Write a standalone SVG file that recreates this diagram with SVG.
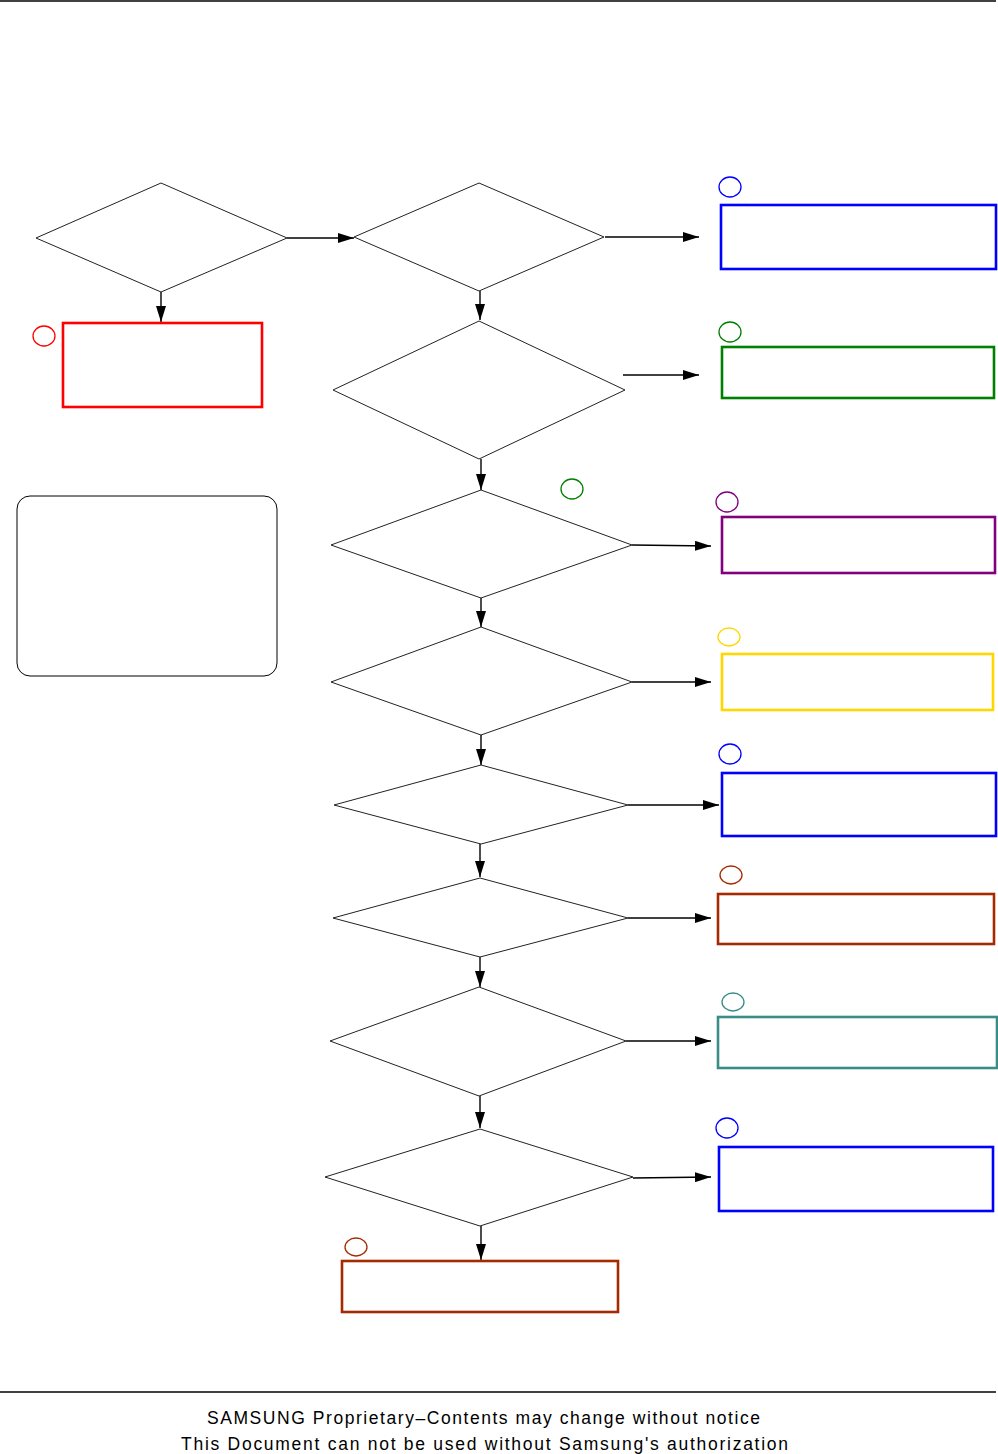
<svg xmlns="http://www.w3.org/2000/svg" width="998" height="1454" viewBox="0 0 998 1454">
<defs>
<marker id="ah" markerWidth="16" markerHeight="10" refX="16" refY="5" orient="auto" markerUnits="userSpaceOnUse">
<path d="M0,0 L16,5 L0,10 Z" fill="#000"/>
</marker>
</defs>
<style>
.d{fill:#fff;stroke:#222;stroke-width:1}
.c{fill:none;stroke:#000;stroke-width:1.4}
.b{fill:#fff;stroke-width:2.6}
.o{fill:none;stroke-width:1.3}
.f{font-family:"Liberation Sans",Arial,sans-serif;font-size:17.5px;fill:#000}
</style>
<rect width="998" height="1454" fill="#fff"/>
<line x1="0" y1="1" x2="996" y2="1" stroke="#000" stroke-width="1.5"/>

<g id="connectors">
<line class="c" x1="287" y1="238" x2="354" y2="238" marker-end="url(#ah)"/>
<line class="c" x1="161" y1="292" x2="161" y2="322" marker-end="url(#ah)"/>
<line class="c" x1="605" y1="237" x2="699" y2="237" marker-end="url(#ah)"/>
<line class="c" x1="480" y1="291" x2="480" y2="320" marker-end="url(#ah)"/>
<line class="c" x1="623" y1="375" x2="699" y2="375" marker-end="url(#ah)"/>
<line class="c" x1="481" y1="459" x2="481" y2="490" marker-end="url(#ah)"/>
<line class="c" x1="632" y1="545" x2="711" y2="546" marker-end="url(#ah)"/>
<line class="c" x1="481" y1="598" x2="481" y2="627" marker-end="url(#ah)"/>
<line class="c" x1="632" y1="682" x2="711" y2="682" marker-end="url(#ah)"/>
<line class="c" x1="481" y1="735" x2="481" y2="765" marker-end="url(#ah)"/>
<line class="c" x1="628" y1="805" x2="719" y2="805" marker-end="url(#ah)"/>
<line class="c" x1="480" y1="844" x2="480" y2="877" marker-end="url(#ah)"/>
<line class="c" x1="628" y1="918" x2="711" y2="918" marker-end="url(#ah)"/>
<line class="c" x1="480" y1="957" x2="480" y2="987" marker-end="url(#ah)"/>
<line class="c" x1="626" y1="1041" x2="711" y2="1041" marker-end="url(#ah)"/>
<line class="c" x1="480" y1="1096" x2="480" y2="1128" marker-end="url(#ah)"/>
<line class="c" x1="633" y1="1178" x2="711" y2="1177" marker-end="url(#ah)"/>
<line class="c" x1="481" y1="1226" x2="481" y2="1260" marker-end="url(#ah)"/>
</g>

<g id="d1"><polygon class="d" points="161,183 287,238 161,292 36,238"/></g>
<g id="d2"><polygon class="d" points="479,183 604,237 479,291 354,237"/></g>
<g id="d3"><polygon class="d" points="479,321 625,390 479,459 333,390"/></g>
<g id="d4"><polygon class="d" points="481,490 632,545 481,598 331,545"/></g>
<g id="d5"><polygon class="d" points="481,627 632,682 481,735 331,682"/></g>
<g id="d6"><polygon class="d" points="481,765 628,805 481,844 334,805"/></g>
<g id="d7"><polygon class="d" points="480,878 628,918 480,957 333,918"/></g>
<g id="d8"><polygon class="d" points="479,987 626,1041 479,1096 330,1041"/></g>
<g id="d9"><polygon class="d" points="480,1129 633,1177 480,1226 325,1177"/></g>

<g id="note"><rect x="17" y="496" width="260" height="180" rx="13" ry="13" fill="#fff" stroke="#000" stroke-width="1"/></g>

<g id="r-red"><rect class="b" x="63" y="323" width="199" height="84" stroke="#ff0000" stroke-width="2.8"/><ellipse class="o" cx="44" cy="336" rx="11" ry="10" stroke="#ff0000"/></g>
<g id="r-blue1"><rect class="b" x="721" y="205" width="275" height="64" stroke="#0000ff" stroke-width="2.8"/><ellipse class="o" cx="730" cy="187" rx="11" ry="10" stroke="#0000ff"/></g>
<g id="r-green"><rect class="b" x="722" y="347" width="272" height="51" stroke="#008000"/><ellipse class="o" cx="730" cy="332" rx="11" ry="10" stroke="#008000"/></g>
<g id="c-green2"><ellipse class="o" cx="572" cy="489" rx="11" ry="10" stroke="#008000"/></g>
<g id="r-purple"><rect class="b" x="722" y="517" width="273" height="56" stroke="#800080"/><ellipse class="o" cx="727" cy="502" rx="11" ry="10" stroke="#800080"/></g>
<g id="r-yellow"><rect class="b" x="722" y="654" width="271" height="56" stroke="#ffd700"/><ellipse class="o" cx="729" cy="637" rx="11" ry="9" stroke="#ffd700"/></g>
<g id="r-blue2"><rect class="b" x="722" y="773" width="274" height="63" stroke="#0000ff" stroke-width="2.8"/><ellipse class="o" cx="730" cy="754" rx="11" ry="10" stroke="#0000ff"/></g>
<g id="r-brown1"><rect class="b" x="718" y="894" width="276" height="50" stroke="#a52a00"/><ellipse class="o" cx="731" cy="875" rx="11" ry="9" stroke="#a52a00"/></g>
<g id="r-teal"><rect class="b" x="718" y="1017" width="279" height="51" stroke="#3a8c86"/><ellipse class="o" cx="733" cy="1002" rx="11" ry="9" stroke="#3a8c86"/></g>
<g id="r-blue3"><rect class="b" x="719" y="1147" width="274" height="64" stroke="#0000ff" stroke-width="2.8"/><ellipse class="o" cx="727" cy="1128" rx="11" ry="10" stroke="#0000ff"/></g>
<g id="r-brown2"><rect class="b" x="342" y="1261" width="276" height="51" stroke="#a52a00"/><ellipse class="o" cx="356" cy="1247" rx="11" ry="9" stroke="#a52a00"/></g>

<line x1="0" y1="1392" x2="996" y2="1392" stroke="#000" stroke-width="1.3"/>
<text class="f" x="207" y="1424" textLength="553" lengthAdjust="spacing">SAMSUNG Proprietary–Contents may change without notice</text>
<text class="f" x="181" y="1450" textLength="607" lengthAdjust="spacing">This Document can not be used without Samsung's authorization</text>
</svg>
